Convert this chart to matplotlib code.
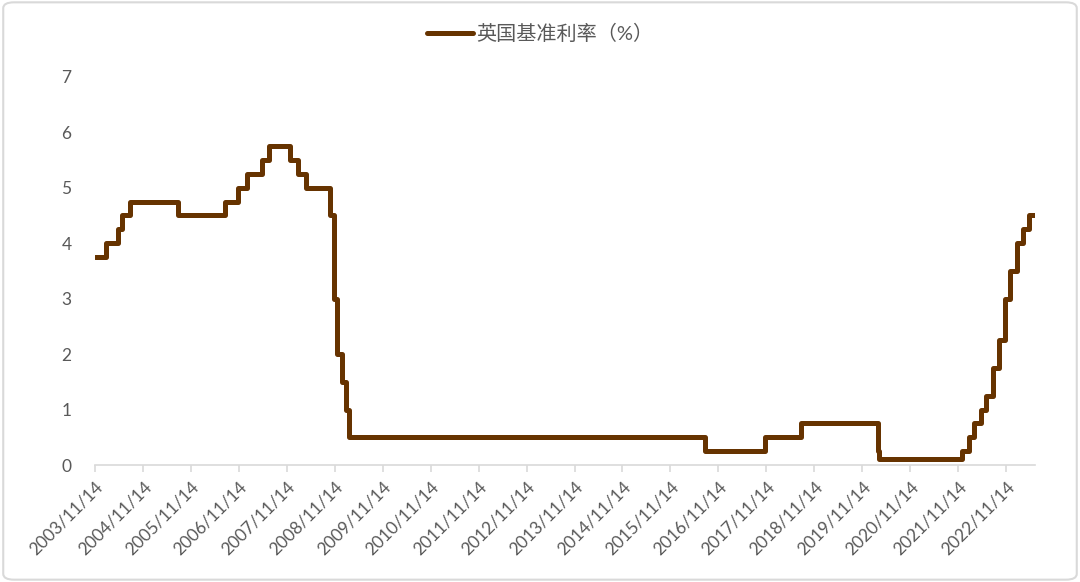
import numpy as np
import pandas as pd
import matplotlib
matplotlib.use("Agg")
import matplotlib.pyplot as plt
from matplotlib.patches import FancyBboxPatch

plt.rcParams['font.family'] = ['Lato', 'Noto Sans CJK SC', 'DejaVu Sans']

# Bank of England base rate: change dates and new rate (%)
change_dates = ["2003-11-14", "2004-02-05", "2004-05-06", "2004-06-10", "2004-08-05",
                "2005-08-04", "2006-08-03", "2006-11-09", "2007-01-11", "2007-05-10",
                "2007-07-05", "2007-12-06", "2008-02-07", "2008-04-10", "2008-10-08",
                "2008-11-06", "2008-12-04", "2009-01-08", "2009-02-05", "2009-03-05",
                "2016-08-04", "2017-11-02", "2018-08-02", "2020-03-11", "2020-03-19",
                "2021-12-16", "2022-02-03", "2022-03-17", "2022-05-05", "2022-06-16",
                "2022-08-04", "2022-09-22", "2022-11-03", "2022-12-15", "2023-02-02",
                "2023-03-23", "2023-05-11"]
rates = [3.75, 4.00, 4.25, 4.50, 4.75,
         4.50, 4.75, 5.00, 5.25, 5.50,
         5.75, 5.50, 5.25, 5.00, 4.50,
         3.00, 2.00, 1.50, 1.00, 0.50,
         0.25, 0.50, 0.75, 0.25, 0.10,
         0.25, 0.50, 0.75, 1.00, 1.25,
         1.75, 2.25, 3.00, 3.50, 4.00,
         4.25, 4.50]
end_date = "2023-06-20"

tick_labels = ["%d/11/14" % y for y in range(2003, 2023)]
legend_label = "英国基准利率（%）"

# step series
x = pd.to_datetime(change_dates + [end_date])
y = rates + [rates[-1]]

fig = plt.figure(figsize=(10.8, 5.82), dpi=100)
ax = fig.add_axes([0.088, 0.201, 0.870, 0.667])

line, = ax.plot(x, y, drawstyle='steps-post', color='#663300', lw=3.6,
                solid_joinstyle='round', solid_capstyle='round', label=legend_label)

ax.set_ylim(0, 7)
ax.set_yticks(range(0, 8))
ticks = pd.to_datetime(["%d-11-14" % y for y in range(2003, 2023)])
ax.set_xticks(ticks)
ax.set_xticklabels(tick_labels, rotation=45, ha='right', rotation_mode='anchor')
ax.set_xlim(pd.Timestamp("2003-11-14"), pd.Timestamp(end_date))

for s in ['top', 'right', 'left']:
    ax.spines[s].set_visible(False)
ax.spines['bottom'].set_color('#d9d9d9')
ax.spines['bottom'].set_linewidth(1.2)
ax.tick_params(axis='x', colors='#d9d9d9', length=5, width=1.2, labelcolor='#595959',
               labelsize=12.5, pad=5)
ax.tick_params(axis='y', length=0, labelcolor='#595959', labelsize=12.5, pad=17)

fig.legend(handles=[line], loc='upper center', bbox_to_anchor=(0.5, 0.99),
           frameon=False, fontsize=14.5, handlelength=2.3, handletextpad=0.15,
           labelcolor='#595959')

fig.patches.append(FancyBboxPatch((0.003, 0.004), 0.994, 0.992,
                                  boxstyle="round,pad=0,rounding_size=0.01",
                                  transform=fig.transFigure, fill=False,
                                  edgecolor='#d9d9d9', lw=1.5))

fig.savefig("out.png", dpi=100)
